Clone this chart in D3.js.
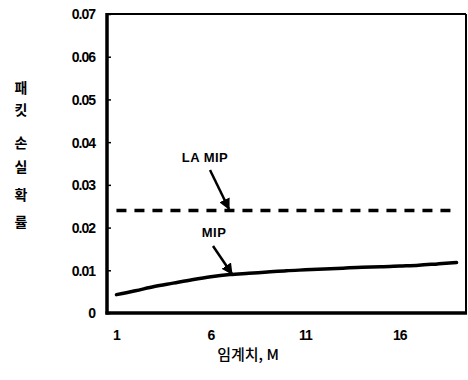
<!DOCTYPE html>
<html><head><meta charset="utf-8">
<script src="https://cdn.jsdelivr.net/npm/d3@7"></script>
<style>
html,body{margin:0;padding:0;background:#fff;}
svg{display:block;}
.tick text{font-family:"Liberation Sans",Arial,sans-serif;font-weight:bold;font-size:14px;fill:#000;letter-spacing:-1px;}
</style></head>
<body><svg id="c" width="468" height="380"></svg>
<script>
const categories = [1,2,3,4,5,6,7,8,9,10,11,12,13,14,15,16,17,18,19];
const mipValues = [0.0043,0.0052,0.0062,0.0070,0.0078,0.0085,0.0090,0.0093,0.0096,0.0099,0.0101,0.0103,0.0105,0.0107,0.0108,0.0110,0.0112,0.0115,0.0118];
const laMipValues = [0.024,0.024,0.024,0.024,0.024,0.024,0.024,0.024,0.024,0.024,0.024,0.024,0.024,0.024,0.024,0.024,0.024,0.024,0.024];
const yTicks = [0,0.01,0.02,0.03,0.04,0.05,0.06,0.07];
const xTickLabels = [1,6,11,16];
const yTitle = ["패","킷","손","실","확","률"];
const xTitle = "임계치, M";

const svg = d3.select("#c");
const L=107, R=466, T=14, B=313;
const x = d3.scaleBand().domain(categories).range([L,R]);
const xc = d => x(d) + x.bandwidth()/2;
const y = d3.scaleLinear().domain([0,0.07]).range([B,T]);

// y axis
const ya = svg.append("g").attr("transform",`translate(${L},0)`)
  .call(d3.axisRight(y).tickValues(yTicks).tickSize(4).tickFormat(d=> d===0?"0":d3.format(".2f")(d)));
ya.select(".domain").remove();
ya.selectAll(".tick line").attr("stroke","#000").attr("stroke-width",1.5);
ya.selectAll(".tick text").attr("x",-12).attr("text-anchor","end").attr("dy","0.35em");

// x axis
const xa = svg.append("g").attr("transform",`translate(0,${B})`)
  .call(d3.axisBottom(x).tickValues(xTickLabels).tickSize(0).tickPadding(17));
xa.select(".domain").remove();

// frame
svg.append("line").attr("x1",L).attr("x2",R).attr("y1",T).attr("y2",T).attr("stroke","#000").attr("stroke-width",2);
svg.append("line").attr("x1",R).attr("x2",R).attr("y1",T).attr("y2",B).attr("stroke","#000").attr("stroke-width",2);
svg.append("line").attr("x1",L).attr("x2",L).attr("y1",T-1).attr("y2",B+1.5).attr("stroke","#000").attr("stroke-width",3.5);
svg.append("line").attr("x1",L-1.5).attr("x2",R+1).attr("y1",B).attr("y2",B).attr("stroke","#000").attr("stroke-width",3.5);

const line = d3.line().x((d,i)=>xc(categories[i])).y(d=>y(d));
svg.append("path").datum(laMipValues).attr("d",line).attr("fill","none")
  .attr("stroke","#000").attr("stroke-width",3.5).attr("stroke-dasharray","10,8");
svg.append("path").datum(mipValues).attr("d",line.curve(d3.curveMonotoneX)).attr("fill","none")
  .attr("stroke","#000").attr("stroke-width",3.5).attr("stroke-linecap","round");

// annotations
const defs = svg.append("defs");
defs.append("marker").attr("id","ah").attr("viewBox","0 0 10 10").attr("refX",9).attr("refY",5)
  .attr("markerWidth",4.5).attr("markerHeight",4.5).attr("orient","auto")
  .append("path").attr("d","M0,0 L10,5 L0,10 Z").attr("fill","#000");
function note(txt,tx,ty,x1,y1,x2,y2){
  svg.append("text").attr("x",tx).attr("y",ty).attr("text-anchor","middle")
    .attr("font-family","Liberation Sans,Arial,sans-serif").attr("font-weight","bold").attr("font-size",13)
    .attr("letter-spacing","0.5px").text(txt);
  svg.append("line").attr("x1",x1).attr("y1",y1).attr("x2",x2).attr("y2",y2)
    .attr("stroke","#000").attr("stroke-width",2.5).attr("marker-end","url(#ah)");
}
note("LA MIP",205,162,210,170,229,209);
note("MIP",214,237,213,246,232,274);

// y title
const yTitlePos=[88,110,143,167,195,222];
yTitle.forEach((ch,i)=>{
  svg.append("text").attr("x",21).attr("y",yTitlePos[i]).attr("dy","0.35em").attr("text-anchor","middle")
    .attr("font-family","Noto Sans CJK KR").attr("font-weight","bold").attr("font-size",14).text(ch);
});
// x title
svg.append("text").attr("x",248).attr("y",360).attr("text-anchor","middle")
  .attr("font-family","Noto Sans CJK KR").attr("font-weight","500").attr("font-size",15).text(xTitle);
</script></body></html>
